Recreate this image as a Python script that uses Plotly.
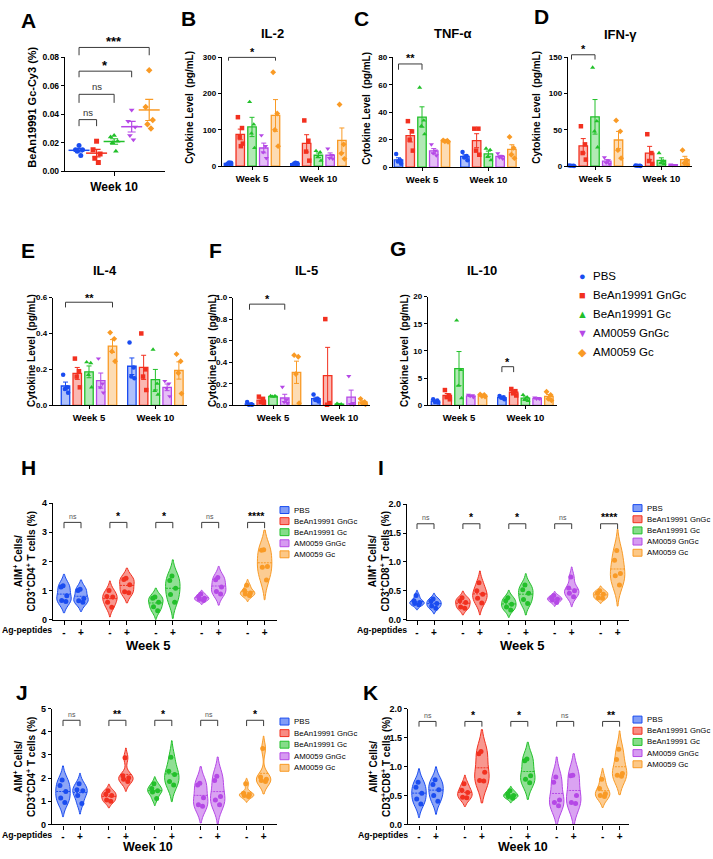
import numpy as np
import plotly.graph_objects as go

W, H = 713, 859
FONT = "Arial, 'Liberation Sans', sans-serif"

GROUPS = ["PBS", "BeAn19991 GnGc", "BeAn19991 Gc", "AM0059 GnGc", "AM0059 Gc"]
COLORS = ["#1a4cf0", "#f2301f", "#22c02a", "#b548e6", "#f99a25"]
SYMBOLS = ["circle", "square", "triangle-up", "triangle-down", "diamond"]
GLYPHS = ["●", "■", "▲", "▼", "◆"]

# ---- Panel A: BeAn19991 Gc-Cy3 (%), week 10 (PBS, BeAn GnGc, BeAn Gc, AM GnGc, AM Gc)
A_PBS = [0.018, 0.015, 0.015, 0.014, 0.011]
A_BEAN_GNGC = [0.021, 0.015, 0.012, 0.009, 0.006]
A_BEAN_GC = [0.025, 0.024, 0.021, 0.020, 0.014]
A_AM_GNGC = [0.043, 0.035, 0.031, 0.025, 0.022]
A_AM_GC = [0.071, 0.045, 0.036, 0.033, 0.030]

# ---- Cytokines (pg/mL); each list = 5 groups in GROUPS order
IL2_W5 = [[4, 6, 7, 9, 10], [135, 105, 80, 62, 55], [177, 115, 90, 50], [85, 55, 38, 22], [259, 145, 100, 55]]
IL2_W10 = [[4, 5, 7, 8, 9], [126, 70, 40, 15], [42, 38, 25, 15], [48, 30, 22, 20], [170, 60, 35, 20]]
TNF_W5 = [[9.6, 5, 4, 2.5], [33.5, 26, 20, 12], [58, 34, 30, 24], [16.5, 12, 10, 8.5], [19.5, 19.2, 18.8, 18.5]]
TNF_W10 = [[11, 8, 7, 5], [28, 28, 12, 9], [13.5, 12.5, 7.5, 5], [10, 8, 7, 6], [22, 14, 9, 6.5]]
IFN_W5 = [[0.8, 0.5, 0.4, 0.3], [55, 30, 18, 9], [136, 62, 48, 26], [12, 8, 4.5, 3], [63, 48, 22, 11]]
IFN_W10 = [[0.8, 0.5, 0.4, 0.3], [44, 18, 7, 3], [18, 7, 4, 3], [2, 1.5, 1, 1.5], [22, 8, 4, 2]]
IL4_W5 = [[0.17, 0.10, 0.09, 0.07], [0.26, 0.19, 0.16, 0.10], [0.24, 0.235, 0.17, 0.10], [0.26, 0.12, 0.10, 0.07], [0.405, 0.37, 0.30, 0.245]]
IL4_W10 = [[0.35, 0.21, 0.16, 0.15], [0.40, 0.20, 0.16, 0.085], [0.31, 0.12, 0.08, 0.06], [0.135, 0.12, 0.095, 0.05], [0.285, 0.245, 0.18, 0.065]]
IL5_W5 = [[0.03, 0.01, 0.005, 0.005], [0.08, 0.06, 0.03, 0.02], [0.085, 0.083, 0.08, 0.082], [0.17, 0.05, 0.03, 0.02], [0.465, 0.45, 0.29, 0.02]]
IL5_W10 = [[0.10, 0.06, 0.05, 0.035], [0.80, 0.02, 0.005], [0.015, 0.01, 0.005], [0.27, 0.02, 0.01, 0.005], [0.06, 0.03, 0.02, 0.01]]
IL10_W5 = [[1.1, 0.9, 0.6, 0.5], [2.8, 1.8, 1.5, 1.1], [15.6, 6.5, 3.6, 1.3], [1.9, 1.8, 1.7, 1.5], [2.0, 1.9, 1.7, 1.6]]
IL10_W10 = [[1.7, 1.5, 1.4, 1.1], [3.0, 2.6, 2.2, 1.8], [1.9, 1.5, 1.0, 0.8], [1.4, 1.3, 1.2, 1.2], [2.5, 1.9, 1.2, 0.9]]

# ---- AIM+ cells (%); NEG = Ag-peptides "-", POS = "+"
H_NEG = [[1.17, 1.12, 0.82, 0.66, 0.63], [1.0, 0.8, 0.78, 0.6, 0.43], [0.78, 0.74, 0.6, 0.45, 0.31], [0.88, 0.8, 0.74, 0.7, 0.66], [1.18, 1.0, 0.92, 0.88, 0.83]]
H_POS = [[1.05, 1.0, 0.73, 0.65, 0.6], [1.42, 1.38, 1.2, 0.96, 0.93], [1.5, 1.35, 1.08, 0.87, 0.6], [1.45, 1.37, 1.12, 0.97, 0.88], [2.4, 2.38, 1.83, 1.8, 1.36]]
I_NEG = [[0.42, 0.33, 0.3, 0.28, 0.26], [0.38, 0.33, 0.3, 0.22, 0.2], [0.38, 0.33, 0.27, 0.22, 0.17], [0.42, 0.38, 0.36, 0.34, 0.3], [0.5, 0.46, 0.44, 0.38, 0.37]]
I_POS = [[0.36, 0.32, 0.28, 0.24, 0.2], [0.64, 0.5, 0.44, 0.37, 0.29], [0.6, 0.52, 0.46, 0.35, 0.28], [0.74, 0.55, 0.5, 0.46, 0.4], [1.2, 1.03, 0.8, 0.76, 0.6]]
J_NEG = [[1.92, 1.68, 1.42, 1.14, 0.94], [1.45, 1.3, 1.25, 1.05, 1.0], [1.75, 1.55, 1.45, 1.4, 1.12], [1.78, 1.7, 1.15, 0.85, 0.78], [1.75, 1.35, 1.28, 1.25, 1.2]]
J_POS = [[1.75, 1.5, 1.45, 1.25, 0.9], [2.88, 2.1, 2.02, 1.95, 1.85], [2.9, 2.3, 2.15, 1.85, 1.7], [2.08, 1.9, 1.2, 1.05, 0.85], [3.28, 2.05, 1.95, 1.9, 1.85]]
K_NEG = [[0.73, 0.64, 0.54, 0.44, 0.35], [0.7, 0.59, 0.55, 0.47, 0.46], [0.58, 0.53, 0.5, 0.48, 0.45], [0.82, 0.73, 0.42, 0.38, 0.32], [0.78, 0.62, 0.53, 0.5, 0.48]]
K_POS = [[0.77, 0.69, 0.6, 0.5, 0.4], [1.26, 1.22, 0.9, 0.76, 0.75], [1.13, 1.1, 0.84, 0.78, 0.72], [0.85, 0.84, 0.5, 0.38, 0.36], [1.3, 1.12, 0.88, 0.85, 0.83]]

H_SIG = ["ns", "*", "*", "ns", "****"]
I_SIG = ["ns", "*", "*", "ns", "****"]
J_SIG = ["ns", "**", "*", "ns", "*"]
K_SIG = ["ns", "*", "*", "ns", "**"]

# ------------------------------------------------------------------
fig = go.Figure()
shapes, ann = [], []
axis_n = [0]


def rgba(hexc, a):
    h = hexc.lstrip("#")
    return f"rgba({int(h[0:2], 16)},{int(h[2:4], 16)},{int(h[4:6], 16)},{a})"


def sem(v):
    v = np.asarray(v, float)
    return float(v.std(ddof=1) / np.sqrt(len(v))) if len(v) > 1 else 0.0


def text(px, py, s, size, bold=False, xanchor="center", yanchor="middle", angle=0, color="black"):
    ann.append(dict(x=px / W, y=1 - py / H, xref="paper", yref="paper",
                    text=f"<b>{s}</b>" if bold else s, showarrow=False,
                    font=dict(family=FONT, size=size, color=color),
                    xanchor=xanchor, yanchor=yanchor, textangle=angle, borderpad=0))


def make_axes(x0, x1, ytop, ybot, xr, yr, xtv, xtt, xfs, ytv, yfmt, yfs, xticklen=3, xstandoff=0):
    axis_n[0] += 1
    n = axis_n[0]
    s = "" if n == 1 else str(n)
    common = dict(showline=True, linecolor="black", linewidth=1.4, ticks="outside",
                  tickwidth=1.2, tickcolor="black", showgrid=False,
                  zeroline=False, fixedrange=True, type="linear")
    fig.update_layout(**{
        f"xaxis{s}": dict(domain=[x0 / W, x1 / W], range=xr, anchor=f"y{s}",
                          tickvals=xtv, ticktext=xtt, ticklen=xticklen, ticklabelstandoff=xstandoff,
                          tickfont=dict(family=FONT, size=xfs, color="black", weight="bold"), **common),
        f"yaxis{s}": dict(domain=[1 - ybot / H, 1 - ytop / H], range=yr, anchor=f"x{s}",
                          tickvals=ytv, tickformat=yfmt, ticklen=3,
                          tickfont=dict(family=FONT, size=yfs, color="black", weight="bold"), **common),
    })

    def to_px(x, y):
        px = x0 + (x - xr[0]) / (xr[1] - xr[0]) * (x1 - x0)
        py = ybot - (y - yr[0]) / (yr[1] - yr[0]) * (ybot - ytop)
        return px, py
    return f"x{s}", f"y{s}", to_px


def bracket(to_px, xa, xb, ytop, yleg, label, ylab, big=11, small=8, ns_color="#333"):
    ax, ayl = to_px(xa, yleg)
    _, ayt = to_px(xa, ytop)
    bx, _ = to_px(xb, yleg)
    p = lambda x, y: f"{x / W},{1 - y / H}"
    shapes.append(dict(type="path", xref="paper", yref="paper",
                       path=f"M{p(ax, ayl)} L{p(ax, ayt)} L{p(bx, ayt)} L{p(bx, ayl)}",
                       line=dict(color="#3a3a3a", width=1)))
    lx, ly = to_px((xa + xb) / 2, ylab)
    if label == "ns":
        text(lx, ly, "ns", small, color=ns_color)
    else:
        text(lx, ly, label, big, bold=True)


# ------------------------------------------------------------------ Panel A
A_DATA = [A_PBS, A_BEAN_GNGC, A_BEAN_GC, A_AM_GNGC, A_AM_GC]
OFFS_A = [0.0, -0.2, 0.2, -0.1, 0.1]
xa, ya, tpA = make_axes(65, 165, 53, 168, [-0.8, 4.9], [0, 0.08], [2], ["Week 10"], 12,
                        [0, 0.02, 0.04, 0.06, 0.08], ".2f", 8.5, xticklen=4)
for i, vals in enumerate(A_DATA):
    fig.add_trace(go.Scatter(x=[i + OFFS_A[k] for k in range(len(vals))], y=vals, mode="markers",
                             marker=dict(symbol=SYMBOLS[i], color=COLORS[i], size=5),
                             xaxis=xa, yaxis=ya, showlegend=False, cliponaxis=False))
    fig.add_trace(go.Scatter(x=[i], y=[np.mean(vals)], mode="markers",
                             marker=dict(symbol="line-ew", size=15, line=dict(color=COLORS[i], width=1.5)),
                             error_y=dict(type="data", array=[sem(vals)], color=COLORS[i], thickness=1.2, width=4),
                             xaxis=xa, yaxis=ya, showlegend=False, cliponaxis=False))
bracket(tpA, 0, 1, 0.0362, 0.0316, "ns", 0.0415, small=9.5)
bracket(tpA, 0, 2, 0.054, 0.048, "ns", 0.0595, small=9.5)
bracket(tpA, 0, 3, 0.0703, 0.066, "*", 0.0745, big=13)
bracket(tpA, 0, 4, 0.087, 0.0815, "***", 0.0915, big=13)
text(32, 104, "BeAn19991 Gc-Cy3 (%)", 11, bold=True, angle=-90)
text(28, 16, "A", 21, bold=True)

# ------------------------------------------------------------------ Bar panels B-G
UNIT = 11.75
GAP = 5.65
OFFS = [-0.2, 0.15, -0.05, 0.22, 0.05]


def bar_panel(x0, x1, ytop, ybot, c5, yr, ytv, yfmt, w5, w10):
    xr = [(x0 - c5) / UNIT, (x1 - c5) / UNIT]
    xa, ya, tp = make_axes(x0, x1, ytop, ybot, xr, yr, [0, GAP], ["Week 5", "Week 10"], 9.5, ytv, yfmt, 8)
    for i in range(5):
        pos = [i - 2, GAP + i - 2]
        fig.add_trace(go.Bar(x=pos, y=[np.mean(w5[i]), np.mean(w10[i])], width=0.72,
                             xaxis=xa, yaxis=ya, showlegend=False,
                             marker=dict(color=rgba(COLORS[i], 0.35), line=dict(color=COLORS[i], width=1.3)),
                             error_y=dict(type="data", array=[sem(w5[i]), sem(w10[i])],
                                          color=COLORS[i], thickness=1, width=2.5)))
        xs, ys = [], []
        for p, vals in zip(pos, [w5[i], w10[i]]):
            for k, v in enumerate(vals):
                xs.append(p + OFFS[k])
                ys.append(v)
        fig.add_trace(go.Scatter(x=xs, y=ys, mode="markers", xaxis=xa, yaxis=ya, showlegend=False,
                                 marker=dict(symbol=SYMBOLS[i], color=COLORS[i], size=4.5),
                                 cliponaxis=False))
    return tp


tpB = bar_panel(222, 350, 53, 163, 252, [0, 300], [0, 100, 200, 300], "d", IL2_W5, IL2_W10)
bracket(tpB, -2, 2, 300, 291, "*", 314)
text(272, 29, "IL-2", 13, bold=True)
text(190, 104, "Cytokine Level  (pg/mL)", 10, bold=True, angle=-90)
text(188, 14, "B", 21, bold=True)

tpC = bar_panel(393, 520, 53, 164, 422, [0, 80], [0, 20, 40, 60, 80], "d", TNF_W5, TNF_W10)
bracket(tpC, -2, 0, 75.2, 71, "**", 79.5)
text(453, 29, "TNF-α", 13, bold=True)
text(367, 104, "Cytokine Level  (pg/mL)", 10, bold=True, angle=-90)
text(361, 14, "C", 21, bold=True)

tpD = bar_panel(568, 692, 53, 163, 595, [0, 150], [0, 50, 100, 150], "d", IFN_W5, IFN_W10)
bracket(tpD, -2, 0, 153.6, 147, "*", 162)
text(620, 30, "IFN-γ", 13, bold=True)
text(537, 104, "Cytokine Level  (pg/mL)", 10, bold=True, angle=-90)
text(541, 12, "D", 21, bold=True)

tpE = bar_panel(53, 187, 296, 405, 89, [0, 0.6], [0, 0.2, 0.4, 0.6], ".1f", IL4_W5, IL4_W10)
bracket(tpE, -2, 2, 0.574, 0.545, "**", 0.6)
text(105, 269, "IL-4", 13, bold=True)
text(32, 350, "Cytokine Level  (pg/mL)", 10, bold=True, angle=-90)
text(28, 248, "E", 21, bold=True)

tpF = bar_panel(233, 370, 296, 405, 273, [0, 1.0], [0, 0.2, 0.4, 0.6, 0.8, 1.0], ".1f", IL5_W5, IL5_W10)
bracket(tpF, -2, 1, 0.939, 0.887, "*", 0.985)
text(306, 269, "IL-5", 13, bold=True)
text(213, 350, "Cytokine Level  (pg/mL)", 10, bold=True, angle=-90)
text(215, 248, "F", 21, bold=True)

tpG = bar_panel(428, 557, 295, 405, 459, [0, 20], [0, 5, 10, 15, 20], "d", IL10_W5, IL10_W10)
bracket(tpG, GAP - 2, GAP - 1, 7.1, 6.1, "*", 8.0)
text(482, 269, "IL-10", 13, bold=True)
text(405, 350, "Cytokine Level  (pg/mL)", 10, bold=True, angle=-90)
text(398, 246, "G", 21, bold=True)

# top legend
for i, g in enumerate(GROUPS):
    y = 274 + 19.3 * i
    text(582, y, GLYPHS[i], 11, color=COLORS[i])
    text(592, y, g, 11.5, xanchor="left")

# ------------------------------------------------------------------ Violin panels H-K
VUNIT = 17.0
VSTEP = 2.7


def violin_panel(x0, x1, ytop, ybot, p0, yr, ytv, yfmt, neg, pos, sig, btop, bleg, blab, standoff):
    xr = [(x0 - p0) / VUNIT, (x1 - p0) / VUNIT]
    positions = []
    for g in range(5):
        positions += [g * VSTEP, g * VSTEP + 1]
    xa, ya, tp = make_axes(x0, x1, ytop, ybot, xr, yr, positions, ["-", "+"] * 5, 10, ytv, yfmt, 9,
                           xticklen=4, xstandoff=standoff)
    for g in range(5):
        for k, vals in enumerate([neg[g], pos[g]]):
            fig.add_trace(go.Violin(x0=g * VSTEP + k, y=vals, xaxis=xa, yaxis=ya, showlegend=False,
                                    line=dict(color=COLORS[g], width=1),
                                    fillcolor=rgba(COLORS[g], 0.5), points="all", pointpos=0,
                                    jitter=0.5, marker=dict(color=COLORS[g], size=5),
                                    width=0.85, meanline=dict(visible=True, color=COLORS[g], width=1),
                                    spanmode="soft", hoveron="points"))
        bracket(tp, g * VSTEP, g * VSTEP + 1, btop, bleg, sig[g], blab, big=10.5, small=7, ns_color="#555")
    return tp


def violin_legend(x0, y0, step):
    for i, g in enumerate(GROUPS):
        yc = y0 + step * i
        shapes.append(dict(type="rect", xref="paper", yref="paper",
                           x0=x0 / W, x1=(x0 + 9) / W, y0=1 - (yc + 3.5) / H, y1=1 - (yc - 3.5) / H,
                           fillcolor=rgba(COLORS[i], 0.55), line=dict(color=COLORS[i], width=1)))
        text(x0 + 13, yc, g, 7.8, xanchor="left")


violin_panel(53, 277, 504, 622, 64, [0, 4], [0, 1, 2, 3, 4], "d", H_NEG, H_POS, H_SIG, 3.34, 3.14, 3.55, -1)
violin_legend(280, 511, 11.2)
text(24, 563, "AIM<sup>+</sup> Cells/<br>CD3<sup>+</sup>CD4<sup>+</sup> T cells (%)", 10, bold=True, angle=-90)
text(53, 632, "Ag-peptides", 8.7, bold=True, xanchor="right")
text(148, 648, "Week 5", 13, bold=True)
text(28, 468, "H", 21, bold=True)

violin_panel(407, 629, 505, 622, 417, [0, 2], [0, 0.5, 1.0, 1.5, 2.0], ".1f", I_NEG, I_POS, I_SIG, 1.66, 1.57, 1.77, -1)
violin_legend(633, 509, 11.3)
text(378, 563, "AIM<sup>+</sup> Cells/<br>CD3<sup>+</sup>CD8<sup>+</sup> T cells (%)", 10, bold=True, angle=-90)
text(408, 632, "Ag-peptides", 8.7, bold=True, xanchor="right")
text(522, 648, "Week 5", 13, bold=True)
text(381, 468, "I", 21, bold=True)

violin_panel(52, 277, 712, 829, 63, [0, 5], [0, 1, 2, 3, 4, 5], "d", J_NEG, J_POS, J_SIG, 4.5, 4.25, 4.75, -2)
violin_legend(280, 725, 11.7)
text(24, 771, "AIM<sup>+</sup> Cells/<br>CD3<sup>+</sup>CD4<sup>+</sup> T cells (%)", 10, bold=True, angle=-90)
text(53, 840, "Ag-peptides", 8.7, bold=True, xanchor="right")
text(148, 852, "Week 10", 12.5, bold=True)
text(22, 696, "J", 21, bold=True)

violin_panel(408, 629, 712, 829, 419, [0, 2], [0, 0.5, 1.0, 1.5, 2.0], ".1f", K_NEG, K_POS, K_SIG, 1.78, 1.69, 1.89, -2)
violin_legend(633, 723, 11.3)
text(379, 771, "AIM<sup>+</sup> Cells/<br>CD3<sup>+</sup>CD8<sup>+</sup> T cells (%)", 10, bold=True, angle=-90)
text(409, 840, "Ag-peptides", 8.7, bold=True, xanchor="right")
text(523, 852, "Week 10", 12.5, bold=True)
text(370, 696, "K", 21, bold=True)

fig.update_layout(width=W, height=H, margin=dict(l=0, r=0, t=0, b=0), autosize=False,
                  paper_bgcolor="white", plot_bgcolor="white", showlegend=False,
                  barmode="overlay", violinmode="overlay",
                  font=dict(family=FONT, color="black"),
                  shapes=shapes, annotations=ann)
fig.write_html("out.html")
